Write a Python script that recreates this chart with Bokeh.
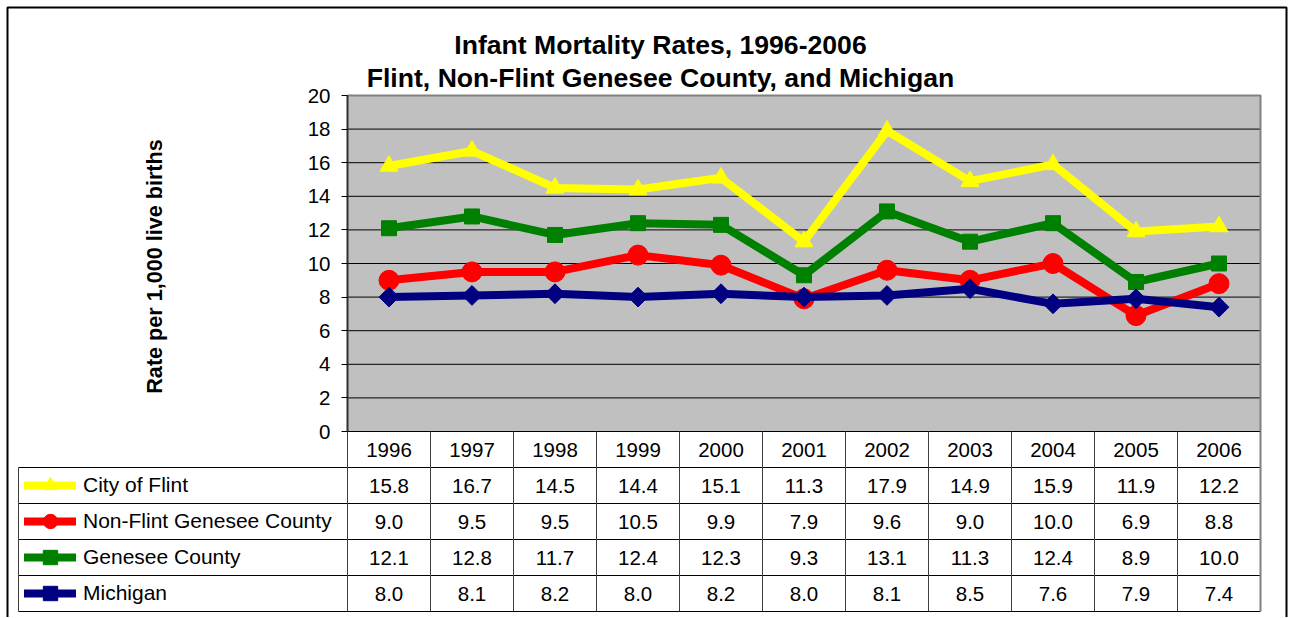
import math
from bokeh.plotting import figure
from bokeh.models import Range1d, FixedTicker, Label, Legend, LegendItem
from bokeh.core.properties import value
from bokeh.embed import file_html
from bokeh.resources import INLINE

# ---------------- data ----------------
years = ["1996", "1997", "1998", "1999", "2000", "2001", "2002", "2003", "2004", "2005", "2006"]
flint = [15.8, 16.7, 14.5, 14.4, 15.1, 11.3, 17.9, 14.9, 15.9, 11.9, 12.2]
non_flint = [9.0, 9.5, 9.5, 10.5, 9.9, 7.9, 9.6, 9.0, 10.0, 6.9, 8.8]
genesee = [12.1, 12.8, 11.7, 12.4, 12.3, 9.3, 13.1, 11.3, 12.4, 8.9, 10.0]
michigan = [8.0, 8.1, 8.2, 8.0, 8.2, 8.0, 8.1, 8.5, 7.6, 7.9, 7.4]
series_names = ["City of Flint", "Non-Flint Genesee County", "Genesee County", "Michigan"]
y_ticks = [0, 2, 4, 6, 8, 10, 12, 14, 16, 18, 20]
title_lines = ["Infant Mortality Rates, 1996-2006", "Flint, Non-Flint Genesee County, and Michigan"]
y_label = "Rate per 1,000 live births"

# ---------------- layout (screen pixels) ----------------
W, H = 1290, 617
PLOT_L, PLOT_R, PLOT_T, PLOT_B = 347, 1260, 95, 431
LEG_L = 18
TABLE_B = 611
N_ROWS = 5
ROW_H = 36
BORDER = (7, 1286, 7, 640)  # left, right, top, bottom of the outer chart border

n = len(years)
idx = list(range(n))
col_w = (PLOT_R - PLOT_L) / n
unit = (PLOT_B - PLOT_T) / (y_ticks[-1] - y_ticks[0])


def xd(sx):
    return -0.5 + (sx - PLOT_L) / col_w


def yd(sy):
    return y_ticks[0] + (PLOT_B - sy) / unit


x_lo, x_hi = -0.5, n - 0.5
leg_x = xd(LEG_L)

FONT = value("Liberation Sans")

p = figure(width=W, height=H, x_range=Range1d(xd(0), xd(W)), y_range=Range1d(yd(H), yd(0)),
           output_backend="svg", toolbar_location=None, min_border=0, x_axis_type=None, title=None)
p.extra_y_ranges = {"table": Range1d(N_ROWS + (H - TABLE_B) / ROW_H, N_ROWS - TABLE_B / ROW_H)}
p.grid.visible = False
p.background_fill_color = "white"
p.border_fill_color = "white"
p.outline_line_color = None

# outer chart border
p.quad(left=[xd(BORDER[0])], right=[xd(BORDER[1])], top=[yd(BORDER[2])], bottom=[yd(BORDER[3])],
       fill_color=None, line_color="black", line_width=2)

# y axis fixed at the left edge of the plot area
ax = p.yaxis[0]
ax.fixed_location = x_lo
ax.bounds = (y_ticks[0], y_ticks[-1])
ax.ticker = FixedTicker(ticks=y_ticks)
ax.axis_line_color = "#303030"
ax.axis_line_width = 2
ax.major_tick_out = 6
ax.major_tick_in = 0
ax.minor_tick_out = 0
ax.minor_tick_in = 0
ax.major_tick_line_color = "black"
ax.major_label_standoff = 11
ax.major_label_text_font = "Liberation Sans"
ax.major_label_text_font_size = "20.5px"
ax.major_label_text_color = "black"

# plot area background, grid and border
p.quad(left=[x_lo], right=[x_hi], bottom=[y_ticks[0]], top=[y_ticks[-1]],
       fill_color="#C0C0C0", line_color=None)
p.segment(x0=[x_lo] * (len(y_ticks) - 2), x1=[x_hi] * (len(y_ticks) - 2),
          y0=y_ticks[1:-1], y1=y_ticks[1:-1], line_color="black", line_width=1)
p.line(x=[x_lo, x_hi, x_hi], y=[y_ticks[-1], y_ticks[-1], y_ticks[0]], line_color="#808080", line_width=2)

# table grid
p.segment(x0=[x_lo], x1=[x_hi], y0=[y_ticks[0]], y1=[y_ticks[0]], line_color="black", line_width=1)
rows = list(range(1, N_ROWS + 1))
p.segment(x0=[leg_x] * len(rows), x1=[x_hi] * len(rows), y0=rows, y1=rows,
          y_range_name="table", line_color="black", line_width=1)
vx = [x_lo + k for k in range(n)]
p.segment(x0=vx, x1=vx, y0=[0] * len(vx), y1=[N_ROWS] * len(vx), y_range_name="table",
          line_color="#404040", line_width=1)
p.segment(x0=[x_hi], x1=[x_hi], y0=[0], y1=[N_ROWS], y_range_name="table", line_color="#808080", line_width=2)
p.segment(x0=[leg_x], x1=[leg_x], y0=[1], y1=[N_ROWS], y_range_name="table", line_color="#404040", line_width=1)

# series
series = [flint, non_flint, genesee, michigan]
colors = ["#FFFF00", "#FF0000", "#008000", "#000080"]
markers = ["triangle", "circle", "square", "square"]
sizes = [18, 20, 15, 14]
angles = [0, 0, 0, math.pi / 4]
items = []
for name, vals, c, m, s, a in zip(series_names, series, colors, markers, sizes, angles):
    lr = p.line(idx, vals, line_color=c, line_width=8, line_join="round", line_cap="round")
    sr = p.scatter(idx, vals, marker=m, size=s, angle=a, fill_color=c, line_color=c)
    items.append(LegendItem(label=name, renderers=[lr, sr]))

legend = Legend(items=items, location=(24, H - TABLE_B), orientation="vertical", glyph_width=52,
                glyph_height=ROW_H, label_height=ROW_H, spacing=0, padding=0, margin=0,
                label_standoff=7, label_text_font="Liberation Sans", label_text_font_size="21px",
                label_text_color="black", border_line_color=None, background_fill_alpha=0)
p.add_layout(legend)

# table texts
p.text(x=idx, y=[0.5] * n, text=years, y_range_name="table", text_align="center",
       text_baseline="middle", text_font=FONT, text_font_size=value("20.5px"), text_color="black")
for r, vals in enumerate(series):
    p.text(x=idx, y=[r + 1.5] * n, text=[f"{v:.1f}" for v in vals], y_range_name="table",
           text_align="center", text_baseline="middle", text_font=FONT,
           text_font_size=value("20.5px"), text_color="black")

# titles and y label
for line_text, mid in zip(title_lines, [44, 77]):
    p.add_layout(Label(x=xd(660), y=yd(mid), text=line_text,
                       text_align="center", text_baseline="middle", text_font="Liberation Sans",
                       text_font_style="bold", text_font_size="26.6px", text_color="black"))
p.add_layout(Label(x=xd(154), y=yd(266), text=y_label,
                   angle=math.pi / 2, text_align="center", text_baseline="middle",
                   text_font="Liberation Sans", text_font_style="bold", text_font_size="21.6px",
                   text_color="black"))

open("out.html", "w").write(file_html(p, INLINE))
